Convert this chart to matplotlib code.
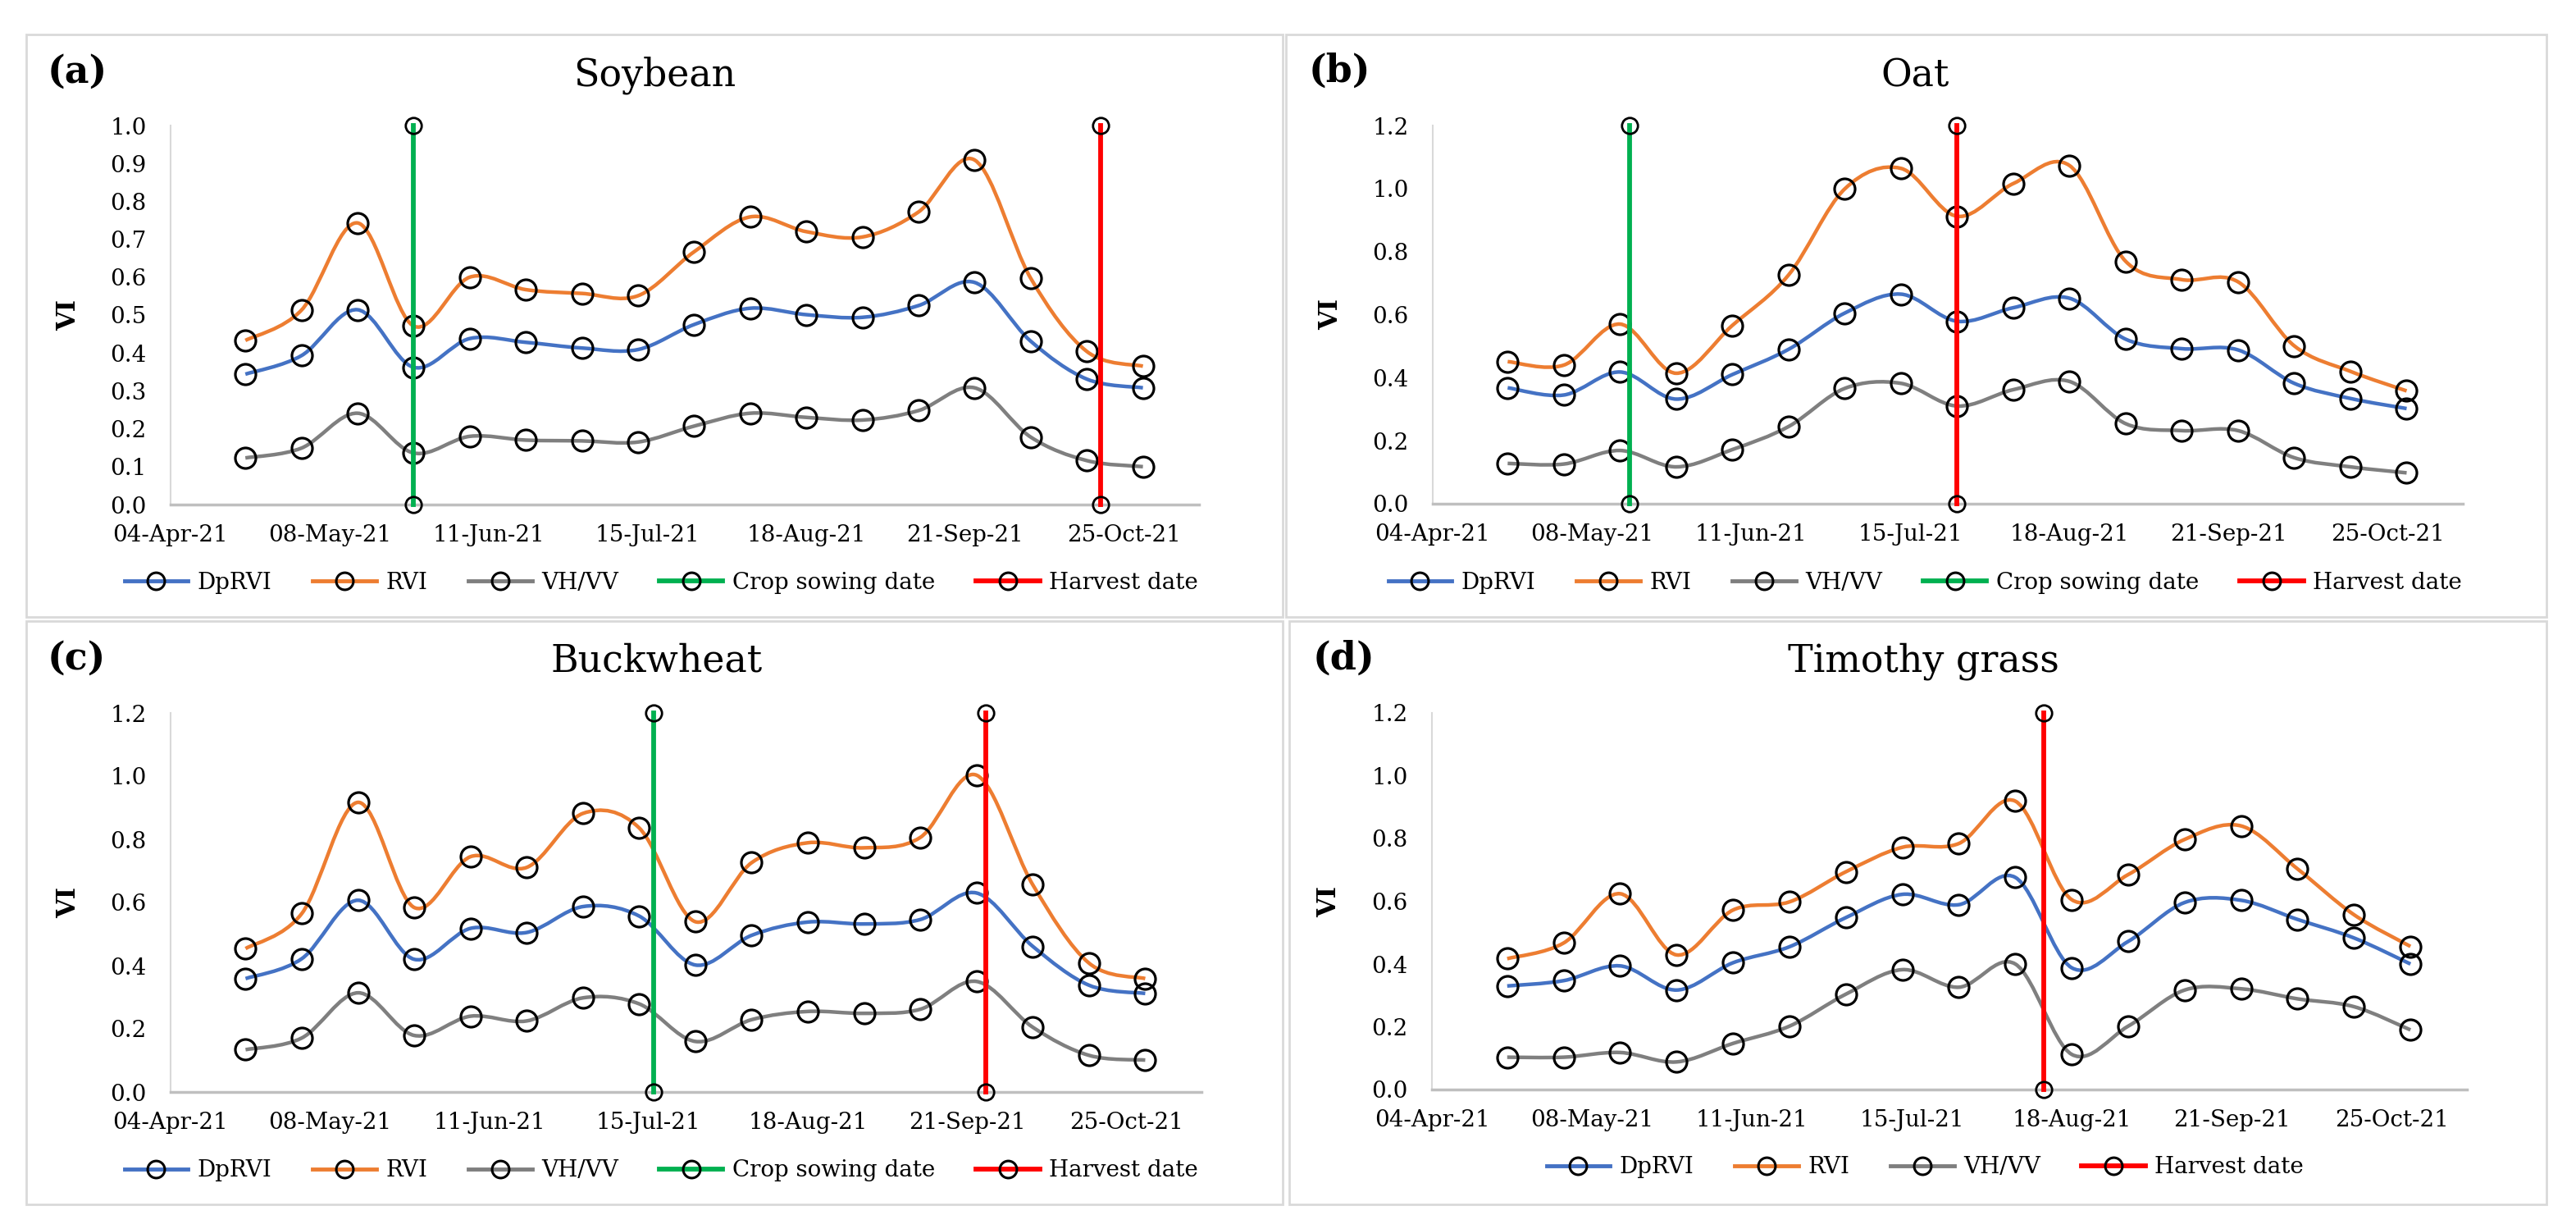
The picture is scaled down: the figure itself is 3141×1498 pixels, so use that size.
import numpy as np
import matplotlib
matplotlib.use("Agg")
import matplotlib.pyplot as plt
import matplotlib.dates as mdates
from matplotlib.path import Path
from matplotlib.patches import PathPatch, Rectangle
from matplotlib.lines import Line2D

plt.rcParams['font.family'] = ['DejaVu Serif']

# acquisition dates (12-day revisit)
dates = ["2021-04-20", "2021-05-02", "2021-05-14", "2021-05-26", "2021-06-07",
         "2021-06-19", "2021-07-01", "2021-07-13", "2021-07-25", "2021-08-06",
         "2021-08-18", "2021-08-30", "2021-09-11", "2021-09-23", "2021-10-05",
         "2021-10-17", "2021-10-29"]
tick_dates = ["2021-04-04", "2021-05-08", "2021-06-11", "2021-07-15",
              "2021-08-18", "2021-09-21", "2021-10-25"]
x_min, x_max = "2021-04-04", "2021-11-10"

# (a) Soybean
soy_dprvi = [0.344, 0.393, 0.514, 0.362, 0.438, 0.428, 0.413, 0.409, 0.475,
             0.518, 0.501, 0.494, 0.525, 0.586, 0.431, 0.331, 0.308]
soy_rvi = [0.433, 0.513, 0.743, 0.471, 0.600, 0.567, 0.557, 0.551, 0.667,
           0.759, 0.720, 0.706, 0.772, 0.909, 0.597, 0.404, 0.365]
soy_vhvv = [0.123, 0.149, 0.241, 0.136, 0.180, 0.170, 0.168, 0.165, 0.207,
            0.241, 0.230, 0.223, 0.248, 0.308, 0.178, 0.116, 0.100]

# (b) Oat
oat_dprvi = [0.368, 0.345, 0.418, 0.332, 0.410, 0.490, 0.605, 0.665, 0.579,
             0.622, 0.652, 0.522, 0.492, 0.488, 0.382, 0.334, 0.302]
oat_rvi = [0.451, 0.440, 0.570, 0.414, 0.566, 0.726, 0.999, 1.064, 0.912,
           1.016, 1.073, 0.769, 0.711, 0.704, 0.501, 0.420, 0.358]
oat_vhvv = [0.128, 0.126, 0.169, 0.117, 0.172, 0.245, 0.366, 0.382, 0.310,
            0.362, 0.388, 0.254, 0.232, 0.232, 0.146, 0.117, 0.098]

# (c) Buckwheat
buck_dprvi = [0.359, 0.422, 0.607, 0.420, 0.518, 0.505, 0.587, 0.557, 0.402,
              0.496, 0.538, 0.532, 0.546, 0.630, 0.461, 0.338, 0.312]
buck_rvi = [0.454, 0.565, 0.917, 0.584, 0.745, 0.711, 0.882, 0.836, 0.539,
            0.726, 0.789, 0.773, 0.806, 1.003, 0.656, 0.408, 0.359]
buck_vhvv = [0.134, 0.171, 0.314, 0.179, 0.240, 0.225, 0.298, 0.279, 0.160,
             0.229, 0.255, 0.249, 0.262, 0.350, 0.205, 0.116, 0.101]

# (d) Timothy grass
tim_dprvi = [0.330, 0.347, 0.394, 0.317, 0.404, 0.455, 0.548, 0.622, 0.589,
             0.676, 0.388, 0.472, 0.596, 0.603, 0.542, 0.483, 0.400]
tim_rvi = [0.417, 0.467, 0.624, 0.429, 0.572, 0.598, 0.694, 0.772, 0.784,
           0.919, 0.605, 0.685, 0.797, 0.840, 0.703, 0.557, 0.456]
tim_vhvv = [0.103, 0.103, 0.118, 0.088, 0.147, 0.202, 0.304, 0.382, 0.326,
            0.400, 0.112, 0.202, 0.317, 0.321, 0.289, 0.264, 0.190]

letters = ["(a)", "(b)", "(c)", "(d)"]
titles = ["Soybean", "Oat", "Buckwheat", "Timothy grass"]
y_max = [1.0, 1.2, 1.2, 1.2]
y_step = [0.1, 0.2, 0.2, 0.2]
sowing = ["2021-05-26", "2021-05-16", "2021-07-16", None]
harvest = ["2021-10-20", "2021-07-25", "2021-09-25", "2021-08-12"]
series = [(soy_dprvi, soy_rvi, soy_vhvv), (oat_dprvi, oat_rvi, oat_vhvv),
          (buck_dprvi, buck_rvi, buck_vhvv), (tim_dprvi, tim_rvi, tim_vhvv)]
names = ["DpRVI", "RVI", "VH/VV"]
colors = ["#4472C4", "#ED7D31", "#7F7F7F"]
c_sow, c_harv = "#00B050", "#FF0000"

W, H = 3141, 1498
fig = plt.figure(figsize=(W / 100, H / 100), dpi=100)


def fx(px):
    return px / W


def fy(py):
    return 1 - py / H


def smooth_path(x, y):
    # excel-like smoothed line: cubic bezier segments through the points
    n = len(x)
    verts = [(x[0], y[0])]
    codes = [Path.MOVETO]
    for i in range(n - 1):
        i0 = max(i - 1, 0)
        i3 = min(i + 2, n - 1)
        c1 = (x[i] + (x[i + 1] - x[i0]) / 6, y[i] + (y[i + 1] - y[i0]) / 6)
        c2 = (x[i + 1] - (x[i3] - x[i]) / 6, y[i + 1] - (y[i3] - y[i]) / 6)
        verts += [c1, c2, (x[i + 1], y[i + 1])]
        codes += [Path.CURVE4] * 3
    return Path(verts, codes)


# panel boxes / plot areas in pixels: (box, axes, letter pos, title pos, legend pos)
layout = [
    ((32, 42, 1564, 752), (208, 153, 1462, 615), (58, 88), (798, 92), (806, 710)),
    ((1568, 42, 3105, 752), (1747, 153, 3003, 614), (1596, 87), (2335, 93), (2347, 710)),
    ((32, 757, 1564, 1468), (208, 869, 1465, 1331), (58, 803), (801, 806), (806, 1427)),
    ((1572, 757, 3105, 1468), (1746, 869, 3008, 1328), (1601, 803), (2345, 806), (2347, 1423)),
]

xd = mdates.datestr2num(dates)

for k in range(4):
    box, axp, lp, tp, gp = layout[k]
    fig.add_artist(Rectangle((fx(box[0]), fy(box[3])), fx(box[2] - box[0]),
                             (box[3] - box[1]) / H, transform=fig.transFigure,
                             fill=False, ec="#D9D9D9", lw=2))
    ax = fig.add_axes([fx(axp[0]), fy(axp[3]), fx(axp[2] - axp[0]), (axp[3] - axp[1]) / H])
    handles, labels = [], []
    for vals, name, c in zip(series[k], names, colors):
        ax.add_patch(PathPatch(smooth_path(xd, np.array(vals)), fill=False, ec=c, lw=3.2))
        ax.plot(xd, vals, ls="none", marker="o", ms=18, mfc="none", mec="black", mew=2.3)
        handles.append(Line2D([], [], color=c, lw=3.5, marker="o", ms=15, mfc="none",
                              mec="black", mew=2.2))
        labels.append(name)
    for d, c, lab in [(sowing[k], c_sow, "Crop sowing date"), (harvest[k], c_harv, "Harvest date")]:
        if d is None:
            continue
        xv = mdates.datestr2num([d, d])
        ax.plot(xv, [0, y_max[k]], color=c, lw=4.2, marker="o", ms=14, mfc="none",
                mec="black", mew=2, clip_on=False, zorder=5)
        handles.append(Line2D([], [], color=c, lw=4.2, marker="o", ms=15, mfc="none",
                              mec="black", mew=2.2))
        labels.append(lab)

    ax.set_xlim(mdates.datestr2num(x_min), mdates.datestr2num(x_max))
    ax.set_ylim(0, y_max[k])
    ax.set_xticks(mdates.datestr2num(tick_dates))
    ax.xaxis.set_major_formatter(mdates.DateFormatter("%d-%b-%y"))
    ax.set_yticks(np.round(np.arange(0, y_max[k] + 1e-9, y_step[k]), 2))
    ax.yaxis.set_major_formatter(matplotlib.ticker.FormatStrFormatter("%.1f"))
    ax.tick_params(length=0, labelsize=20)
    ax.tick_params(axis="y", pad=21)
    ax.tick_params(axis="x", pad=17)
    for s in ["top", "right"]:
        ax.spines[s].set_visible(False)
    ax.spines["left"].set_color("#D9D9D9")
    ax.spines["left"].set_linewidth(1.5)
    ax.spines["bottom"].set_color("#BFBFBF")
    ax.spines["bottom"].set_linewidth(2.5)
    ax.set_ylabel("VI", fontsize=22, fontweight="bold")
    ax.yaxis.set_label_coords(-0.087, 0.5)

    fig.text(fx(lp[0]), fy(lp[1]), letters[k], fontsize=33, fontweight="bold",
             ha="left", va="center")
    fig.text(fx(tp[0]), fy(tp[1]), titles[k], fontsize=33, ha="center", va="center")
    ax.legend(handles, labels, loc="center", bbox_to_anchor=(fx(gp[0]), fy(gp[1])),
              bbox_transform=fig.transFigure, ncol=len(handles), frameon=False,
              fontsize=20, handlelength=2.8, handletextpad=0.4, columnspacing=1.8)

fig.savefig("out.png", dpi=100)
